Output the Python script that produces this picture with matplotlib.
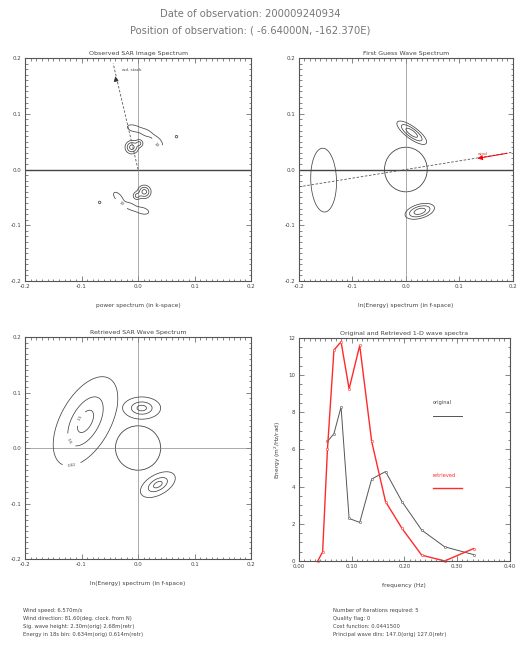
import numpy as np
import matplotlib
matplotlib.use("Agg")
import matplotlib.pyplot as plt
from matplotlib.patches import Circle
from matplotlib.ticker import MultipleLocator, FormatStrFormatter

# ---------------- data ----------------
date_str = "200009240934"
pos_lat, pos_lon = "-6.64000N", "-162.370E"

# 1-D spectra (frequency in Hz, energy m^2/Hz/rad)
freq_ret = [0.0356, 0.0448, 0.054, 0.0663, 0.0798, 0.0951, 0.1153, 0.138, 0.1644, 0.1957, 0.2331, 0.2767, 0.3319]
energy_ret = [0.0, 0.49, 6.02, 11.35, 11.8, 9.26, 11.6, 6.43, 3.19, 1.75, 0.31, 0.0, 0.67]
freq_orig = [0.054, 0.0663, 0.0798, 0.0951, 0.1153, 0.138, 0.1644, 0.1957, 0.2331, 0.2767, 0.3319]
energy_orig = [6.43, 6.85, 8.29, 2.29, 2.07, 4.41, 4.81, 3.19, 1.66, 0.76, 0.34]

# spectral components:
# (x0, y0, sigma_long, sigma_short, angle_deg, amplitude)
obs_components = [
    (-0.008, 0.074, 0.009, 0.0045, -15, 0.85),
    (0.014, 0.066, 0.009, 0.0045, -25, 0.85),
    (0.035, 0.050, 0.009, 0.0045, -50, 0.85),
    (-0.011, 0.040, 0.006, 0.006, 0, 3.0),
    (0.002, 0.047, 0.004, 0.004, 0, 1.5),
    (0.068, 0.059, 0.0025, 0.0025, 0, 0.6),
]
obs_levels = [0.4, 1.2, 2.4]

fg_components = [
    (-0.154, -0.019, 0.044, 0.0185, 92, 0.7),
    (0.011, 0.066, 0.017, 0.0056, -35, 2.0),
    (0.026, -0.075, 0.0145, 0.0065, 15, 2.0),
]
fg_levels = [0.3, 0.8, 1.5]

ret_components = [
    (-0.093, 0.048, 0.029, 0.0147, 62, 2.0),
    (0.0065, 0.072, 0.011, 0.0066, 0, 2.0),
    (0.035, -0.066, 0.0112, 0.006, 30, 2.0),
]
ret_levels = [0.02, 0.5, 1.5]

circle_radius = 0.04

obs_dir_x = [0.0, -0.044]
obs_dir_y = [0.0, 0.190]
obs_arrow_tip = (-0.041, 0.172)

fg_dir_x = [-0.2, 0.2]
fg_dir_y = [-0.031, 0.031]
wind_from = (0.195, 0.030)
wind_tip = (0.129, 0.019)

left_info = [
    "Wind speed: 6.570m/s",
    "Wind direction: 81.60(deg. clock. from N)",
    "Sig. wave height: 2.30m(orig) 2.68m(retr)",
    "Energy in 18s bin: 0.634m(orig) 0.614m(retr)",
]
right_info = [
    "Number of iterations required: 5",
    "Quality flag: 0",
    "Cost function: 0.0441500",
    "Principal wave dirs: 147.0(orig) 127.0(retr)",
]

# ---------------- helpers ----------------
AX_COL = "#555555"
TXT_COL = "#444444"


def field(comps, X, Y, sym):
    Z = np.zeros_like(X)
    for (x0, y0, sl, ss, ang, a) in comps:
        t = np.radians(ang)
        for s in ([1, -1] if sym else [1]):
            dx = X - s * x0
            dy = Y - s * y0
            u = dx * np.cos(t) + dy * np.sin(t)
            v = -dx * np.sin(t) + dy * np.cos(t)
            Z += a * np.exp(-0.5 * (u ** 2 / sl ** 2 + v ** 2 / ss ** 2))
    return Z


def style_axes(ax, xmaj, xmin, ymaj, ymin, xfmt, yfmt):
    for sp in ax.spines.values():
        sp.set_color(AX_COL)
        sp.set_linewidth(0.8)
    ax.xaxis.set_major_locator(MultipleLocator(xmaj))
    ax.xaxis.set_minor_locator(MultipleLocator(xmin))
    ax.yaxis.set_major_locator(MultipleLocator(ymaj))
    ax.yaxis.set_minor_locator(MultipleLocator(ymin))
    ax.xaxis.set_major_formatter(FormatStrFormatter(xfmt))
    ax.yaxis.set_major_formatter(FormatStrFormatter(yfmt))
    ax.tick_params(which="both", direction="in", top=True, right=True,
                   colors=AX_COL, labelcolor=TXT_COL, width=0.5)
    ax.tick_params(which="major", length=3.5, labelsize=4, pad=2.5)
    ax.tick_params(which="minor", length=1.8)


fig = plt.figure(figsize=(5.21, 6.5), dpi=100)
fig.patch.set_facecolor("white")

fig.text(0.48, 0.978, f"Date of observation: {date_str}", ha="center", va="center",
         fontsize=7.2, color="#777777")
fig.text(0.48, 0.953, f"Position of observation: ( {pos_lat}, {pos_lon})", ha="center",
         va="center", fontsize=7.2, color="#777777")

g = np.linspace(-0.2, 0.2, 501)
X, Y = np.meshgrid(g, g)

# ---- panel 1: observed SAR image spectrum ----
ax1 = fig.add_axes([0.048, 0.5677, 0.434, 0.343])
ax1.set_xlim(-0.2, 0.2)
ax1.set_ylim(-0.2, 0.2)
style_axes(ax1, 0.1, 0.01, 0.1, 0.01, "%.1f", "%.1f")
ax1.axhline(0, color="#444444", lw=1.0)
ax1.axvline(0, color="#888888", lw=0.5)
Z1 = field(obs_components, X, Y, True)
cs1 = ax1.contour(X, Y, Z1, levels=obs_levels, colors="#444444", linewidths=0.55)
ax1.clabel(cs1, levels=[obs_levels[0]], manual=[(0.031, 0.043), (-0.031, -0.063)],
           fmt={obs_levels[0]: "19"}, fontsize=2.8, inline=True)
ax1.plot(obs_dir_x, obs_dir_y, ls=(0, (3, 2)), color="#555555", lw=0.6)
ax1.annotate("", xy=obs_arrow_tip, xytext=(obs_arrow_tip[0] + 0.002, obs_arrow_tip[1] - 0.012),
             arrowprops=dict(arrowstyle="-|>", color="#333333", lw=0.6, mutation_scale=7))
ax1.text(-0.028, 0.178, "wd. stack", fontsize=3, color=TXT_COL, va="center")
ax1.set_title("Observed SAR Image Spectrum", fontsize=4.5, color=TXT_COL, pad=2)
ax1.set_xlabel("power spectrum (in k-space)", fontsize=4.2, color=TXT_COL, labelpad=10)

# ---- panel 2: first guess wave spectrum ----
ax2 = fig.add_axes([0.574, 0.5677, 0.410, 0.343])
ax2.set_xlim(-0.2, 0.2)
ax2.set_ylim(-0.2, 0.2)
style_axes(ax2, 0.1, 0.01, 0.1, 0.01, "%.1f", "%.1f")
ax2.axhline(0, color="#444444", lw=1.0)
ax2.axvline(0, color="#888888", lw=0.5)
Z2 = field(fg_components, X, Y, False)
ax2.contour(X, Y, Z2, levels=fg_levels, colors="#444444", linewidths=0.55)
ax2.add_patch(Circle((0, 0), circle_radius, fill=False, ec="#444444", lw=0.6))
ax2.plot(fg_dir_x, fg_dir_y, ls=(0, (3, 2)), color="#555555", lw=0.6)
ax2.annotate("", xy=wind_tip, xytext=wind_from,
             arrowprops=dict(arrowstyle="-|>", color="red", lw=0.7, mutation_scale=7))
ax2.text(0.134, 0.028, "wind", fontsize=3, color="#cc3333", va="center")
ax2.set_title("First Guess Wave Spectrum", fontsize=4.5, color=TXT_COL, pad=2)
ax2.set_xlabel("ln(Energy) spectrum (in f-space)", fontsize=4.2, color=TXT_COL, labelpad=10)

# ---- panel 3: retrieved SAR wave spectrum ----
ax3 = fig.add_axes([0.048, 0.140, 0.434, 0.3415])
ax3.set_xlim(-0.2, 0.2)
ax3.set_ylim(-0.2, 0.2)
style_axes(ax3, 0.1, 0.01, 0.1, 0.01, "%.1f", "%.1f")
ax3.axhline(0, color="#888888", lw=0.5)
ax3.axvline(0, color="#888888", lw=0.5)
Z3 = field(ret_components, X, Y, False)
cs3 = ax3.contour(X, Y, Z3, levels=ret_levels, colors="#444444", linewidths=0.55)
ax3.clabel(cs3, manual=[(-0.118, -0.028), (-0.122, 0.012), (-0.105, 0.055)],
           fmt={ret_levels[0]: "0.02", ret_levels[1]: "0.5", ret_levels[2]: "1.5"},
           fontsize=2.8, inline=True)
ax3.add_patch(Circle((0, 0), circle_radius, fill=False, ec="#444444", lw=0.6))
ax3.set_title("Retrieved SAR Wave Spectrum", fontsize=4.5, color=TXT_COL, pad=2)
ax3.set_xlabel("ln(Energy) spectrum (in f-space)", fontsize=4.2, color=TXT_COL, labelpad=10)

# ---- panel 4: 1-D spectra ----
ax4 = fig.add_axes([0.574, 0.137, 0.404, 0.343])
ax4.set_xlim(0, 0.4)
ax4.set_ylim(0, 12)
style_axes(ax4, 0.1, 0.01, 2, 0.5, "%.2f", "%d")
ax4.plot(freq_orig, energy_orig, color="#555555", lw=0.7, marker="o", ms=1.6,
         mfc="white", mew=0.4, clip_on=False)
ax4.plot(freq_ret, energy_ret, color="#ff2a2a", lw=1.0, marker="o", ms=1.6,
         mfc="white", mew=0.4, clip_on=False)
ax4.text(0.635, 0.71, "original", transform=ax4.transAxes, fontsize=3.6, color=TXT_COL,
         va="center")
ax4.plot([0.635, 0.775], [0.65, 0.65], transform=ax4.transAxes, color="#555555", lw=0.7)
ax4.text(0.635, 0.385, "retrieved", transform=ax4.transAxes, fontsize=3.6, color="#ff2a2a",
         va="center")
ax4.plot([0.635, 0.775], [0.325, 0.325], transform=ax4.transAxes, color="#ff2a2a", lw=1.0)
ax4.set_title("Original and Retrieved 1-D wave spectra", fontsize=4.5, color=TXT_COL, pad=2)
ax4.set_xlabel("frequency (Hz)", fontsize=4.2, color=TXT_COL, labelpad=10)
ax4.set_ylabel("Energy (m$^2$/Hz/rad)", fontsize=4.2, color=TXT_COL, labelpad=4)

# ---- bottom info text ----
ys = [0.0615, 0.0477, 0.0354, 0.0231]
for y, s in zip(ys, left_info):
    fig.text(0.044, y, s, fontsize=3.8, color=TXT_COL, va="center")
for y, s in zip(ys, right_info):
    fig.text(0.639, y, s, fontsize=3.8, color=TXT_COL, va="center")

fig.savefig("out.png", dpi=100, facecolor="white")
